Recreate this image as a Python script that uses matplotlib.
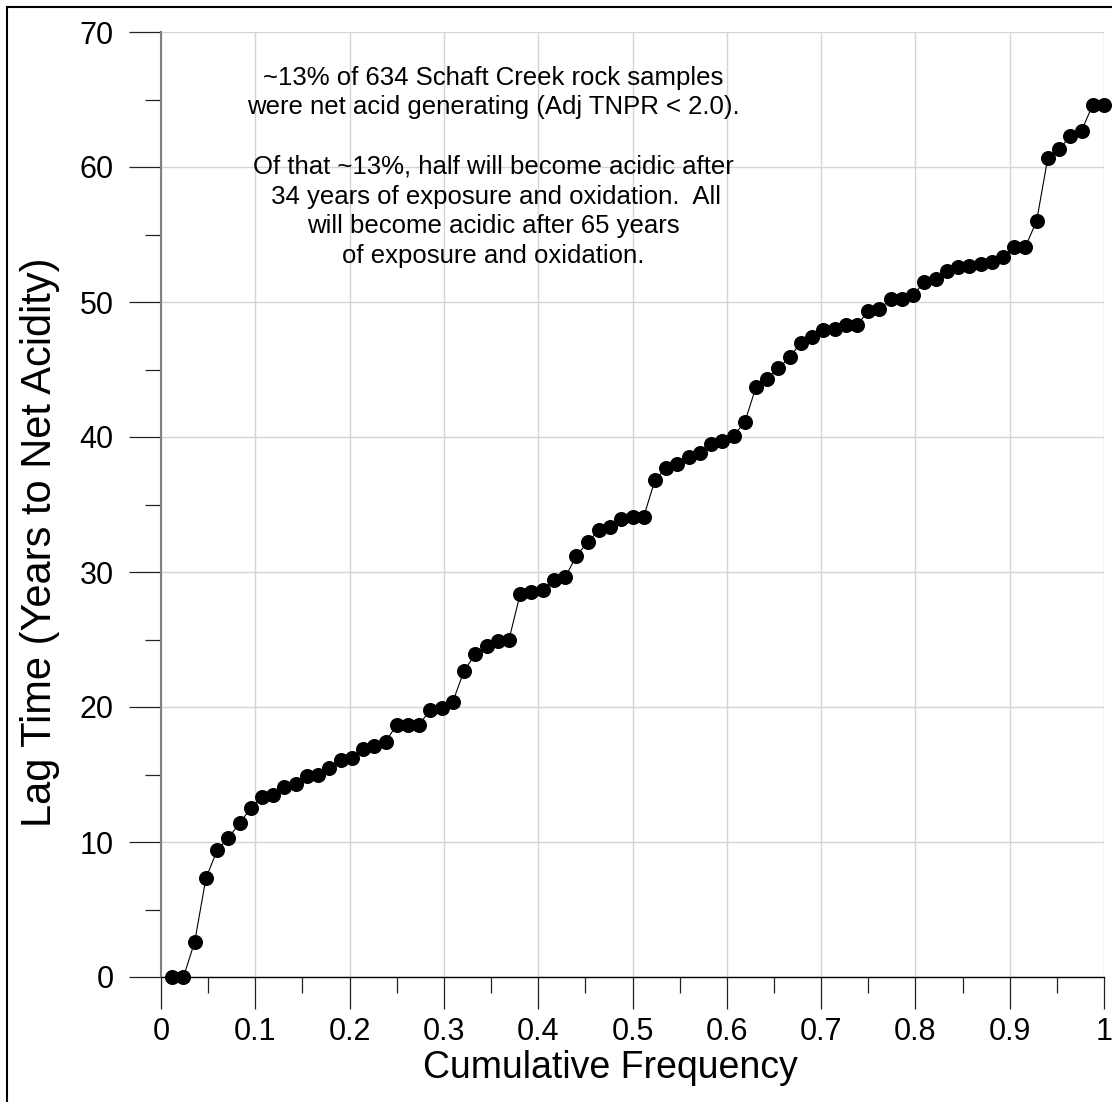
import matplotlib
matplotlib.use('Agg')
import matplotlib.pyplot as plt
import numpy as np
from matplotlib.patches import Rectangle
from matplotlib.ticker import MultipleLocator

plt.rcParams['font.family'] = ['Liberation Sans', 'DejaVu Sans']

# lag time (years to net acidity) for the acid generating samples, sorted
lag_years = [0.0, 0.0, 2.6, 7.3, 9.4, 10.3, 11.4, 12.5, 13.3, 13.5,
             14.1, 14.3, 14.9, 15.0, 15.5, 16.1, 16.2, 16.9, 17.1, 17.4,
             18.7, 18.7, 18.7, 19.8, 19.9, 20.4, 22.7, 23.9, 24.5, 24.9,
             25.0, 28.4, 28.5, 28.7, 29.4, 29.6, 31.2, 32.2, 33.1, 33.3,
             33.9, 34.1, 34.1, 36.8, 37.7, 38.0, 38.5, 38.8, 39.5, 39.7,
             40.1, 41.1, 43.7, 44.3, 45.1, 45.9, 47.0, 47.4, 47.9, 48.0,
             48.3, 48.3, 49.3, 49.5, 50.2, 50.2, 50.5, 51.5, 51.7, 52.3,
             52.6, 52.7, 52.8, 53.0, 53.3, 54.1, 54.1, 56.0, 60.7, 61.3,
             62.3, 62.7, 64.6, 64.6]
n = len(lag_years)
cum_freq = np.arange(1, n + 1) / n  # rank / n

x_ticklabels = ['0', '0.1', '0.2', '0.3', '0.4', '0.5', '0.6', '0.7', '0.8', '0.9', '1']

note = ("~13% of 634 Schaft Creek rock samples\n"
        "were net acid generating (Adj TNPR < 2.0).\n"
        "\n"
        "Of that ~13%, half will become acidic after\n"
        " 34 years of exposure and oxidation.  All\n"
        "will become acidic after 65 years\n"
        "of exposure and oxidation.")

W, H = 1112, 1102
fig = plt.figure(figsize=(W/100, H/100), dpi=100)
ax = fig.add_axes([161/W, 1 - 977/H, (1104-161)/W, (977-32)/H])

ax.plot(cum_freq, lag_years, color='black', lw=0.8, zorder=3, clip_on=False)
ax.plot(cum_freq, lag_years, 'o', color='black', ms=9.8, zorder=4, clip_on=False)

ax.set_xlim(0, 1)
ax.set_ylim(0, 70)
ax.xaxis.set_minor_locator(MultipleLocator(0.05))
ax.yaxis.set_major_locator(MultipleLocator(10))
ax.yaxis.set_minor_locator(MultipleLocator(5))
ax.set_xticks(np.linspace(0, 1, len(x_ticklabels)))
ax.set_xticklabels(x_ticklabels)

ax.grid(True, which='major', color='#d4d4d4', lw=1.0, zorder=0)
for s in ['top', 'right']:
    ax.spines[s].set_visible(False)
ax.spines['left'].set_color('#808080')
ax.spines['bottom'].set_color('black')
ax.spines['left'].set_linewidth(1.5)
ax.spines['bottom'].set_linewidth(1.0)

ax.tick_params(axis='both', which='major', direction='out', length=23, width=0.9,
               colors='#222222', labelcolor='black', labelsize=22)
ax.tick_params(axis='both', which='minor', direction='out', length=11.5, width=0.9,
               colors='#222222')
ax.tick_params(axis='y', which='major', pad=11)
ax.tick_params(axis='x', which='major', pad=6)

# axis titles placed in figure pixels
fig.text(610/W, 1 - 1068/H, 'Cumulative Frequency', fontsize=27,
         ha='center', va='center')
fig.text(40/W, 1 - 542/H, 'Lag Time (Years to Net Acidity)', fontsize=30,
         ha='center', va='center', rotation=90)

ax.text(0.352, 67.5, note, ha='center', va='top', multialignment='center',
        fontsize=18.5, linespacing=1.3)

# outer frame
fig.patches.append(Rectangle((7/W, -0.1), 1.2, 1 - 7/H + 0.1,
                             transform=fig.transFigure, fill=False,
                             edgecolor='black', lw=1.5))

plt.savefig('out.png', dpi=100)
plt.close()
